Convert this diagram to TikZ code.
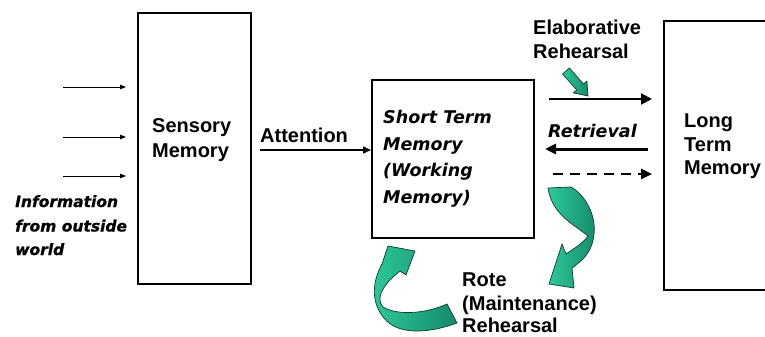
\documentclass[tikz,border=0pt]{standalone}
\usepackage{fontspec}
\setmainfont{Liberation Sans}
\newfontfamily\vfam{DejaVu Sans}
\newfontfamily\heavyfam{DejaVu Sans}[BoldItalicFeatures={FakeBold=0.8}]
\usetikzlibrary{arrows.meta}
\definecolor{gA}{HTML}{2CC99A}
\definecolor{gB}{HTML}{16896A}
\definecolor{gEdge}{HTML}{0E3D2E}
\begin{document}
\begin{tikzpicture}[x=1pt,y=-1pt,
  box/.style={draw=black,line width=2pt,inner sep=0pt},
  lab/.style={anchor=base west,inner sep=0pt,font=\bfseries\fontsize{20}{24}\selectfont},
  stmlab/.style={anchor=base west,inner sep=0pt,font=\vfam\bfseries\itshape\fontsize{17.5}{21}\selectfont},
  infolab/.style={anchor=base west,inner sep=0pt,font=\heavyfam\bfseries\itshape\fontsize{15.5}{19}\selectfont},
  inarrow/.style={draw=black,line width=1pt,-{Triangle[length=6pt,width=4.5pt]}},
  attarrow/.style={draw=black,line width=1.5pt,-{Triangle[length=8pt,width=7pt]}},
  bigarrow/.style={draw=black,line width=2pt,-{Triangle[length=11pt,width=11pt]}},
  dasharrow/.style={draw=black,line width=2.5pt,-{Triangle[length=11pt,width=10pt]}},
  retarrow/.style={draw=black,line width=3pt,-{Triangle[length=11pt,width=10pt]}},
  green/.style={draw=gEdge,line width=0.7pt,left color=gA,right color=gB}
]
\useasboundingbox (0,0) rectangle (765,337);
\fill[white] (0,0) rectangle (765,337);
\clip (0,0) rectangle (765,337);

% boxes
\node[box,minimum width=113pt,minimum height=271pt] (sens) at (194.5,148.5) {};
\node[box,minimum width=162pt,minimum height=158pt] (stm) at (453,159) {};
\node[box,minimum width=140pt,minimum height=269pt] (ltm) at (734,155.5) {};

% texts
\node[lab] (sensA) at (152,132) {Sensory};
\node[lab] (sensB) at (152,157) {Memory};
\node[lab] (attl) at (260,142) {Attention};
\node[infolab] (infA) at (15,207) {Information};
\node[infolab] (infB) at (15,231.5) {from outside};
\node[infolab] (infC) at (15,255) {world};
\node[stmlab] (stmA) at (383,123) {Short Term};
\node[stmlab] (stmB) at (383,150) {Memory};
\node[stmlab] (stmC) at (383,176.5) {(Working};
\node[stmlab] (stmD) at (383,203) {Memory)};
\node[lab] (elA) at (533,35) {Elaborative};
\node[lab] (elB) at (533,58.5) {Rehearsal};
\node[stmlab] (retl) at (548,137) {Retrieval};
\node[lab] (ltmA) at (684,127) {Long};
\node[lab] (ltmB) at (684,151) {Term};
\node[lab] (ltmC) at (684,174) {Memory};
\node[lab] (roA) at (462,286) {Rote};
\node[lab] (roB) at (462,310.5) {(Maintenance)};
\node[lab] (roC) at (462,332.5) {Rehearsal};

% input arrows
\coordinate (in1s) at (63,87);  \coordinate (in1e) at (126,87);
\coordinate (in2s) at (63,137); \coordinate (in2e) at (126,137);
\coordinate (in3s) at (63,176); \coordinate (in3e) at (126,176);
\draw[inarrow] (in1s) -- (in1e);
\draw[inarrow] (in2s) -- (in2e);
\draw[inarrow] (in3s) -- (in3e);

% attention
\coordinate (attS) at (260,150);
\draw[attarrow] (attS) -- (stm.west |- attS);

% STM <-> LTM
\coordinate (elY) at (549,99);
\coordinate (retY) at (600,149);
\coordinate (dashY) at (600,174);
\draw[bigarrow,shorten >=11pt] (elY) -- (ltm.west |- elY);
\draw[retarrow,shorten <=15pt,shorten >=10pt] (ltm.west |- retY) -- (stm.east |- retY);
\draw[dasharrow,dash pattern=on 10pt off 7pt,shorten <=18pt,shorten >=11pt] (stm.east |- dashY) -- (ltm.west |- dashY);

% small green arrow (elaborative)
\path[green] (562.6,74) -- (569.4,68) -- (583.5,84) -- (586.9,81.1) -- (588,96)
  -- (573.3,92.9) -- (576.7,90) -- cycle;

% right curved green arrow
\path[green] (548,188) -- (571,187)
  .. controls (588,197) and (598,220) .. (593,240)
  .. controls (590,255) and (580,262) .. (572,268)
  -- (574,288) -- (549,284) -- (562,244) -- (566,254)
  .. controls (575,248) and (583,243) .. (588,236)
  .. controls (575,225) and (552,215) .. (548,188) -- cycle;

% left curved green arrow
\path[green] (447,304) -- (457,323)
  .. controls (430,333) and (398,336) .. (384,318)
  .. controls (372,304) and (371,284) .. (382,264)
  -- (388,246) -- (415,251) -- (406,275) -- (400,271)
  .. controls (386,282) and (374,297) .. (383,307)
  .. controls (400,317) and (430,312) .. (447,304) -- cycle;
\end{tikzpicture}
\end{document}
